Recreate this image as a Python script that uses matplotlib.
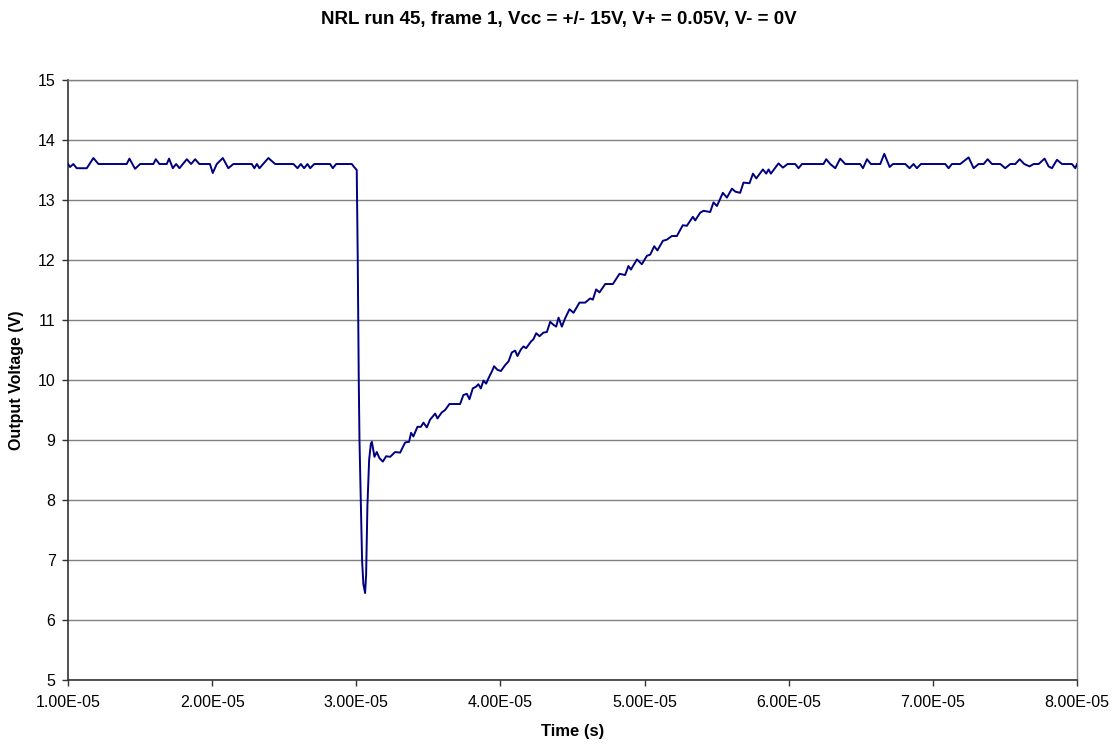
import numpy as np
import matplotlib
matplotlib.use("Agg")
import matplotlib.pyplot as plt
from matplotlib.ticker import FuncFormatter, MultipleLocator

# ──────────────────────────────────────────────────────────────
#  Data (time in units of 1e-5 s)
# ──────────────────────────────────────────────────────────────
TIME_E5 = [
    1.000, 1.014, 1.037, 1.060, 1.130, 1.176, 1.211, 1.407, 1.426, 1.465,
    1.500, 1.592, 1.609, 1.634, 1.685, 1.701, 1.727, 1.750, 1.773, 1.824,
    1.854, 1.882, 1.911, 1.985, 2.004, 2.032, 2.074, 2.112, 2.147, 2.275,
    2.293, 2.310, 2.328, 2.390, 2.437, 2.564, 2.592, 2.615, 2.638, 2.661,
    2.680, 2.708, 2.818, 2.837, 2.860, 2.969, 2.985,
    # drop and recovery
    3.003, 3.010, 3.017, 3.022, 3.031, 3.040, 3.049, 3.061, 3.068, 3.077,
    3.089, 3.101, 3.108, 3.126, 3.142, 3.160, 3.184, 3.207, 3.235, 3.269,
    3.304, 3.339, 3.366, 3.380, 3.396, 3.424, 3.448, 3.466, 3.489, 3.512,
    3.547, 3.563, 3.593, 3.616, 3.646, 3.720, 3.743, 3.767, 3.785, 3.808,
    3.831, 3.847, 3.864, 3.882, 3.901, 3.917, 3.940, 3.956, 3.979, 4.003,
    4.033, 4.056, 4.079, 4.102, 4.118, 4.142, 4.160, 4.178, 4.211, 4.229,
    4.248, 4.271, 4.298, 4.322, 4.345, 4.368, 4.387, 4.403, 4.426, 4.449,
    4.479, 4.507, 4.548, 4.588, 4.622, 4.641, 4.664, 4.687, 4.727, 4.780,
    4.826, 4.865, 4.888, 4.905, 4.947, 4.981, 5.016, 5.039, 5.067, 5.089,
    5.127, 5.155, 5.189, 5.224, 5.247, 5.265, 5.293, 5.335, 5.351, 5.386,
    5.409, 5.455, 5.478, 5.502, 5.543, 5.571, 5.606, 5.629, 5.663, 5.686,
    5.728, 5.752, 5.775, 5.821, 5.844, 5.860, 5.876, 5.929, 5.960, 5.992,
    # settled again
    6.045, 6.068, 6.092, 6.241, 6.260, 6.288, 6.323, 6.357, 6.392, 6.496,
    6.515, 6.543, 6.570, 6.635, 6.663, 6.700, 6.723, 6.809, 6.838, 6.866,
    6.889, 6.917, 7.086, 7.109, 7.132, 7.190, 7.248, 7.283, 7.317, 7.352,
    7.380, 7.410, 7.468, 7.502, 7.537, 7.572, 7.602, 7.634, 7.671, 7.699,
    7.734, 7.775, 7.803, 7.826, 7.861, 7.896, 7.965, 7.988, 8.000,
]
VOLTAGE = [
    13.60, 13.55, 13.60, 13.53, 13.53, 13.70, 13.60, 13.60, 13.69, 13.52,
    13.60, 13.60, 13.68, 13.60, 13.60, 13.69, 13.53, 13.60, 13.53, 13.68,
    13.60, 13.68, 13.60, 13.60, 13.45, 13.60, 13.70, 13.53, 13.60, 13.60,
    13.53, 13.60, 13.53, 13.70, 13.60, 13.60, 13.53, 13.60, 13.53, 13.60,
    13.53, 13.60, 13.60, 13.53, 13.60, 13.60, 13.55,
    13.50, 12.00, 10.00, 9.00, 8.00, 7.00, 6.60, 6.45, 6.75, 7.90,
    8.67, 8.94, 8.97, 8.72, 8.80, 8.70, 8.64, 8.73, 8.72, 8.80,
    8.79, 8.96, 8.97, 9.12, 9.06, 9.22, 9.22, 9.29, 9.21, 9.34,
    9.44, 9.36, 9.46, 9.50, 9.60, 9.60, 9.75, 9.77, 9.68, 9.86,
    9.89, 9.93, 9.86, 9.99, 9.94, 10.03, 10.14, 10.23, 10.17, 10.15,
    10.25, 10.31, 10.46, 10.49, 10.40, 10.51, 10.56, 10.53, 10.64, 10.68,
    10.78, 10.73, 10.79, 10.80, 10.97, 10.92, 10.89, 11.04, 10.89, 11.03,
    11.18, 11.12, 11.29, 11.29, 11.36, 11.34, 11.51, 11.46, 11.60, 11.60,
    11.77, 11.75, 11.90, 11.84, 12.01, 11.93, 12.07, 12.09, 12.23, 12.16,
    12.32, 12.34, 12.40, 12.40, 12.50, 12.58, 12.57, 12.72, 12.66, 12.79,
    12.82, 12.80, 12.96, 12.90, 13.12, 13.04, 13.19, 13.14, 13.12, 13.29,
    13.28, 13.44, 13.36, 13.51, 13.44, 13.51, 13.44, 13.61, 13.54, 13.60,
    13.60, 13.53, 13.60, 13.60, 13.68, 13.60, 13.53, 13.69, 13.60, 13.60,
    13.53, 13.68, 13.60, 13.60, 13.77, 13.55, 13.60, 13.60, 13.53, 13.60,
    13.53, 13.60, 13.60, 13.53, 13.60, 13.60, 13.71, 13.53, 13.60, 13.60,
    13.68, 13.60, 13.60, 13.53, 13.60, 13.60, 13.68, 13.60, 13.56, 13.60,
    13.60, 13.69, 13.56, 13.53, 13.67, 13.60, 13.60, 13.53, 13.60,
]

TITLE = "NRL run 45, frame 1, Vcc = +/- 15V, V+ = 0.05V, V- = 0V"
X_TICKS = [1e-5, 2e-5, 3e-5, 4e-5, 5e-5, 6e-5, 7e-5, 8e-5]

plt.rcParams["font.family"] = ["Liberation Sans", "DejaVu Sans"]

fig = plt.figure(figsize=(11.17, 7.45), dpi=100)
ax = fig.add_axes([0.0609, 0.0872, 0.9033, 0.8054])

t = np.array(TIME_E5) * 1e-5
ax.plot(t, VOLTAGE, color="#000080", linewidth=1.4, zorder=3,
        solid_joinstyle="round")

ax.set_xlim(1e-5, 8e-5)
ax.set_ylim(5, 15)
ax.set_xticks(X_TICKS)
ax.xaxis.set_major_formatter(FuncFormatter(lambda v, _: f"{v:.2E}"))
ax.yaxis.set_major_locator(MultipleLocator(1))

ax.grid(axis="y", color="#808080", linewidth=1.0, zorder=1)
ax.set_axisbelow(True)

for side in ("top", "right"):
    ax.spines[side].set_color("#808080")
    ax.spines[side].set_linewidth(1.0)
for side in ("left", "bottom"):
    ax.spines[side].set_color("#333333")
    ax.spines[side].set_linewidth(1.2)

ax.tick_params(axis="both", direction="out", length=4, width=1,
               color="#333333", labelsize=11.5)
ax.tick_params(axis="x", pad=7)
ax.tick_params(axis="y", pad=5)

ax.set_xlabel("Time (s)", fontsize=12, fontweight="bold", labelpad=10)
ax.set_ylabel("Output Voltage (V)", fontsize=11.5, fontweight="bold", labelpad=10)
fig.suptitle(TITLE, y=0.985, fontsize=13.5, fontweight="bold")

fig.savefig("out.png", dpi=100)
